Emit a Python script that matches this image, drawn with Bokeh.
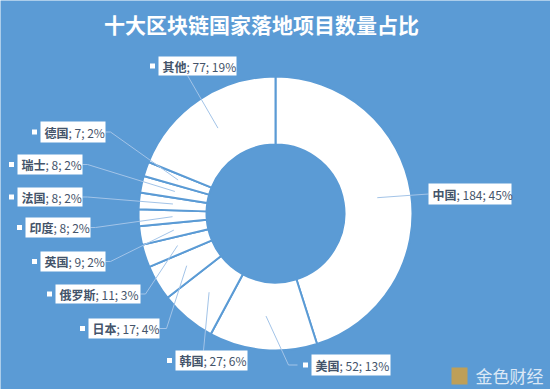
import math
from bokeh.plotting import figure
from bokeh.models import Range1d
from bokeh.core.properties import value
from bokeh.embed import file_html
from bokeh.resources import INLINE

# ---- data ----
countries = ["中国", "美国", "韩国", "日本", "俄罗斯", "英国", "印度", "法国", "瑞士", "德国", "其他"]
counts = [184, 52, 27, 17, 11, 9, 8, 8, 8, 7, 77]
percents = ["45%", "13%", "6%", "4%", "3%", "2%", "2%", "2%", "2%", "2%", "19%"]
title_text = "十大区块链国家落地项目数量占比"

# ---- layout (screen px) ----
W, H = 550, 389
BG = "#5b9bd5"
TXT = "#44546a"
LINE = "#a3c4e8"
CX, CY = 275, 213
R_OUT, R_IN = 137, 69
R_MID = 103

def sy(y):
    return H - y

# label boxes: left, top, right, bottom, has_square
boxes = [
    (428, 183, 511, 204, False),
    (311, 354, 390, 375, True),
    (175, 350, 247, 370, True),
    (88, 318, 159, 338, True),
    (55, 284, 140, 303, True),
    (40, 251, 105, 271, True),
    (25, 217, 90, 237, True),
    (17, 187, 82, 206, True),
    (17, 154, 82, 174, True),
    (40, 121, 105, 142, True),
    (158, 56, 236, 75, True),
]

p = figure(width=W, height=H, output_backend="svg", toolbar_location=None,
           x_range=Range1d(0, W), y_range=Range1d(0, H), min_border=0)
p.axis.visible = False
p.grid.visible = False
p.outline_line_color = None
p.background_fill_color = BG
p.border_fill_color = BG

total = sum(counts)
starts, ends, mids = [], [], []
cum = 0
for c in counts:
    a0 = cum / total
    a1 = (cum + c) / total
    starts.append(math.pi / 2 - 2 * math.pi * a0)
    ends.append(math.pi / 2 - 2 * math.pi * a1)
    mids.append(2 * math.pi * (a0 + a1) / 2)
    cum += c

p.annular_wedge(x=CX, y=sy(CY), inner_radius=R_IN, outer_radius=R_OUT,
                start_angle=starts, end_angle=ends, direction="clock",
                fill_color="white", line_color=BG, line_width=2)

# leader lines
xs, ys = [], []
for i, (l, t, r, b, sq) in enumerate(boxes):
    px = CX + R_MID * math.sin(mids[i])
    py = CY - R_MID * math.cos(mids[i])
    ym = (t + b) / 2
    name = countries[i]
    if name == "中国":
        pts = [(px, py), (l, ym)]
    elif name == "美国":
        pts = [(px, py), (288, ym), (l - 14, ym)]
    elif name == "韩国":
        pts = [(px, py), ((l + r) / 2 - 8, t)]
    elif name == "其他":
        pts = [(px, py), (l + 29, b)]
    elif name == "日本":
        pts = [(px, py), (r + 7, ym), (r, ym)]
    else:
        pts = [(px, py), (r + 5, ym), (r, ym)]
    xs.append([q[0] for q in pts])
    ys.append([sy(q[1]) for q in pts])
p.multi_line(xs=xs, ys=ys, line_color=LINE, line_width=1)

# boxes
p.quad(left=[b[0] for b in boxes], right=[b[2] for b in boxes],
       top=[sy(b[1]) for b in boxes], bottom=[sy(b[3]) for b in boxes],
       fill_color="white", line_color=None)
sqx = [b[0] - 6 for b in boxes if b[4]]
sqy = [sy((b[1] + b[3]) / 2) for b in boxes if b[4]]
p.rect(x=sqx, y=sqy, width=5, height=5, fill_color="white", line_color=None)

FS = 12
name_x = [b[0] + 4 for b in boxes]
lab_y = [sy((b[1] + b[3]) / 2) for b in boxes]
p.text(x=name_x, y=lab_y, text=countries, text_color=TXT, text_font=value("Noto Sans CJK SC"),
       text_font_style="bold", text_font_size=f"{FS}px", text_baseline="middle", text_align="left")
rest = [f"; {c}; {pc}" for c, pc in zip(counts, percents)]
rest_x = [b[0] + 4 + FS * len(n) for b, n in zip(boxes, countries)]
p.text(x=rest_x, y=lab_y, text=rest, text_color=TXT, text_font=value("Noto Sans CJK SC"),
       text_font_size=f"{FS}px", text_baseline="middle", text_align="left")

# title
p.text(x=[261], y=[sy(23)], text=[title_text], text_color="white", text_font=value("Noto Sans CJK SC"),
       text_font_style="bold", text_font_size="21px", text_baseline="middle", text_align="center")

# corner logo
p.quad(left=[451], right=[467], top=[sy(367)], bottom=[sy(384)], fill_color="#c9a04a",
       line_color=None, fill_alpha=0.9)
p.text(x=[475], y=[sy(375)], text=["金色财经"], text_color="#dbe8f6", text_font=value("Noto Sans CJK SC"),
       text_font_size="17px", text_baseline="middle", text_align="left")

open("out.html", "w").write(file_html(p, INLINE))
